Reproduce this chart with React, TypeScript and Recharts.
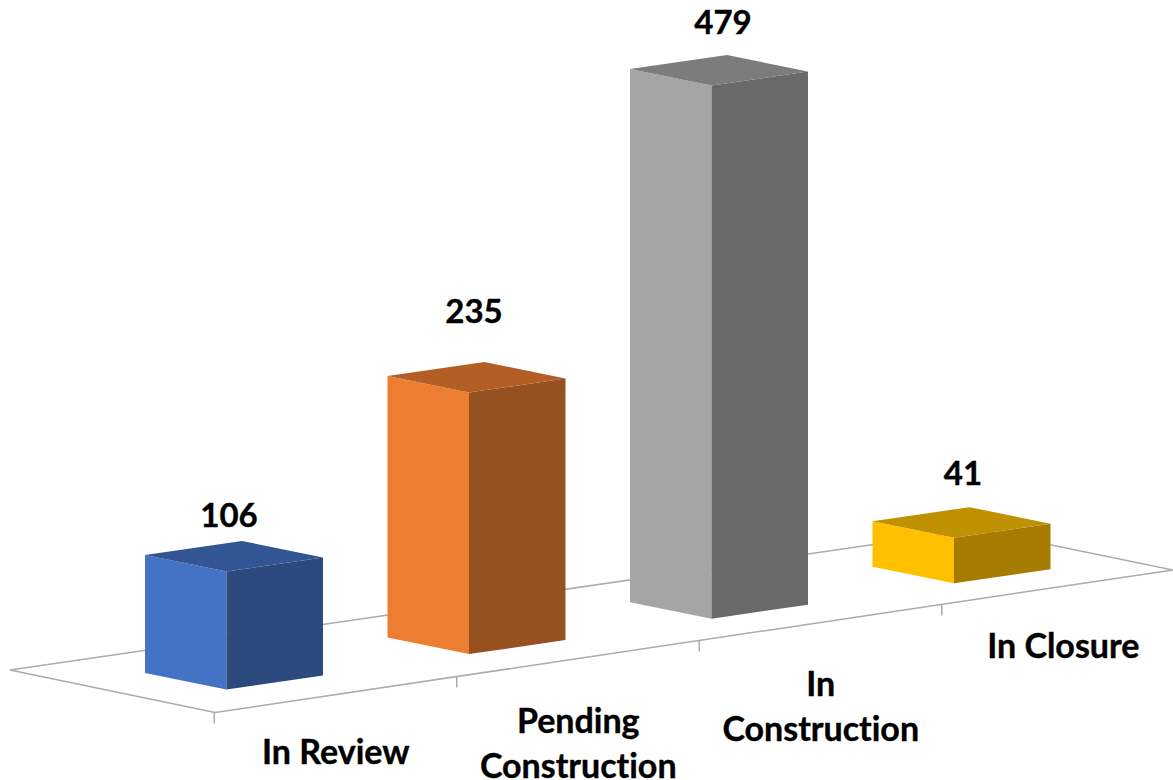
import { BarChart, Bar, XAxis, YAxis, LabelList } from 'recharts'

const categories = ['In Review', 'Pending Construction', 'In Construction', 'In Closure']
const tickLines = [['In Review'], ['Pending', 'Construction'], ['In', 'Construction'], ['In Closure']]
const counts = [106, 235, 479, 41]
const frontColors = ['#4472C4', '#ED7D31', '#A5A5A5', '#FFC000']
const sideColors = ['#2C4A7E', '#97501F', '#696969', '#A67C00']
const topColors = ['#335593', '#B25E25', '#7C7C7C', '#BF9000']

const rows = categories.map((name, i) => ({ name, count: counts[i] }))

const FONT = 'Lato, Carlito, sans-serif'
const GRID = '#ABABAB'
const textStyle = { fontVariantLigatures: 'none' as const }

// fake perspective: each category sits further back on the floor
const RISE = 35.4
const FRONT_X = 81.5
const FRONT_DROP = 16.5
const SIDE_DROP = 2.5
const BACK_X = 97
const BACK_RISE = 14

// data labels don't sit at the same gap above every bar
const labelLift = [28, 53.5, 35, 36]
const labelShift = [-5, -2.5, 4, 1.5]
const tickNudge = [1, 5, 4, 1.5]

function Box3D({ x, y, width, height, index }: any) {
    const top = y - RISE * index
    const bottom = top + height
    const fx = x + FRONT_X
    const rx = x + width
    return (
        <g>
            <polygon points={`${x},${top} ${fx},${top + FRONT_DROP} ${fx},${bottom + FRONT_DROP} ${x},${bottom}`} fill={frontColors[index]} />
            <polygon points={`${fx},${top + FRONT_DROP} ${rx},${top + SIDE_DROP} ${rx},${bottom + SIDE_DROP} ${fx},${bottom + FRONT_DROP}`} fill={sideColors[index]} />
            <polygon points={`${x},${top} ${x + BACK_X},${top - BACK_RISE} ${rx},${top + SIDE_DROP} ${fx},${top + FRONT_DROP}`} fill={topColors[index]} />
        </g>
    )
}

function ValueLabel({ x, y, width, index, value }: any) {
    return (
        <text
            x={x + width / 2 + labelShift[index]}
            y={y - RISE * index - labelLift[index]}
            textAnchor="middle"
            fontFamily={FONT}
            fontWeight={700}
            fontSize={33}
            fill="#000"
            stroke="#000"
            strokeWidth={0.4}
            style={textStyle}
        >
            {value}
        </text>
    )
}

function FloorTick({ x, index }: any) {
    const markX = x - 20
    const markY = 712.5 - 36 * index
    const baseline = 763 - RISE * index + tickNudge[index]
    return (
        <g>
            <line x1={markX} x2={markX} y1={markY} y2={markY + 11} stroke={GRID} strokeWidth={1.5} />
            {tickLines[index].map((line, n) => (
                <text
                    key={line}
                    x={x + 101.5}
                    y={baseline + n * 45}
                    textAnchor="middle"
                    fontFamily={FONT}
                    fontWeight={700}
                    fontSize={34}
                    fill="#000"
                    stroke="#000"
                    strokeWidth={0.4}
                    style={textStyle}
                >
                    {line}
                </text>
            ))}
        </g>
    )
}

export default function App() {
    return (
        <div style={{ position: 'absolute', left: 0, top: 0, width: 1173, height: 780, overflow: 'hidden' }}>
            <BarChart
                width={1173}
                height={780}
                data={rows}
                barSize={178}
                margin={{ top: 5.2, right: 90, bottom: 0, left: 113 }}
            >
                <polyline
                    points="1173,570 215,712.5 10,670 976,529.6 1173,570"
                    fill="none"
                    stroke={GRID}
                    strokeWidth={1.5}
                />
                <XAxis dataKey="name" height={107} interval={0} axisLine={false} tickLine={false} tick={FloorTick} />
                <YAxis hide domain={[0, 600]} />
                <Bar dataKey="count" shape={Box3D} isAnimationActive={false}>
                    <LabelList dataKey="count" content={ValueLabel} />
                </Bar>
            </BarChart>
        </div>
    )
}
